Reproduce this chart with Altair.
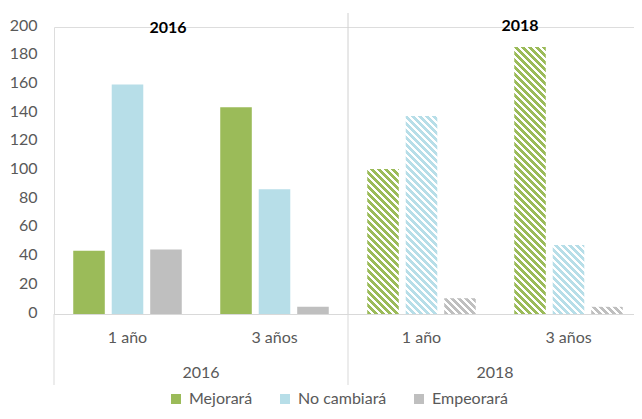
import altair as alt
import pandas as pd

# ---------------- data ----------------
years = ["2016", "2018"]
horizons = ["1 año", "3 años"]
series = ["Mejorará", "No cambiará", "Empeorará"]
colors = ["#9BBB59", "#B7DEE8", "#BFBFBF"]

# order: 2016·1 año, 2016·3 años, 2018·1 año, 2018·3 años
mejorara = [44, 144, 101, 186]
no_cambiara = [160, 87, 138, 48]
empeorara = [45, 5, 11, 5]
y_ticks = [0, 20, 40, 60, 80, 100, 120, 140, 160, 180, 200]

values_by_serie = {"Mejorará": mejorara, "No cambiará": no_cambiara, "Empeorará": empeorara}

rows = []
cats = []
i = 0
for yr in years:
    for hz in horizons:
        cat = f"{yr}|{hz}"
        cats.append(cat)
        for s in series:
            rows.append({"year": yr, "horizon": hz, "cat": cat, "serie": s,
                         "value": values_by_serie[s][i]})
        i += 1
df = pd.DataFrame(rows)

# ---------------- layout ----------------
W = 588
H = 287
YMAX = 200
FONT = "Lato"
TXT = "#595959"
PI, PO = 0.18, 0.5
step = W / len(cats)
bar_w = step / (3 - PI + 2 * PO) * (1 - PI)


def hatch(value, color, period=7.0, frac=0.55):
    w = bar_w
    h = max(value * H / YMAX, 0.5)
    total = w + h
    k = total / (w * w + h * h)
    stops = []
    j = 0
    while True:
        a = j * period / total
        if a >= 1:
            break
        b = min((j + frac) * period / total, 1.0)
        c = min((j + 1) * period / total, 1.0)
        stops += [{"offset": a, "color": color}, {"offset": b, "color": color},
                  {"offset": b, "color": "#FFFFFF"}, {"offset": c, "color": "#FFFFFF"}]
        j += 1
    return {"gradient": "linear", "x1": 0, "y1": 1, "x2": k * w, "y2": 1 - k * h,
            "stops": stops}


xscale = alt.Scale(domain=cats, paddingInner=0, paddingOuter=0)
x_axis = alt.Axis(title=None, labelExpr="split(datum.value, '|')[1]",
                  ticks=False, tickSize=0, domainColor="#D9D9D9",
                  labelPadding=15, labelFontSize=16, labelColor=TXT,
                  labelFont=FONT, labelAngle=0)


def xe(**kw):
    return alt.X("cat:N", scale=xscale, axis=x_axis, **kw)


xo_enc = alt.XOffset("serie:N", scale=alt.Scale(domain=series, paddingInner=PI, paddingOuter=PO))
y_enc = alt.Y("value:Q", scale=alt.Scale(domain=[0, YMAX]),
              axis=alt.Axis(title=None, values=y_ticks, grid=False, domain=False,
                            ticks=False, tickSize=0, labelPadding=17, labelFontSize=16,
                            labelColor=TXT, labelFont=FONT, labelOffset=-2))

base = alt.Chart(df)

bars_2016 = base.transform_filter(alt.datum.year == "2016").mark_bar().encode(
    x=xe(), xOffset=xo_enc, y=y_enc,
    color=alt.Color("serie:N", scale=alt.Scale(domain=series, range=colors),
                    legend=alt.Legend(title=None, orient="none", legendX=114, legendY=364,
                                      direction="horizontal", symbolType="square",
                                      symbolSize=100, symbolStrokeWidth=0,
                                      labelFontSize=16, labelColor=TXT, labelFont=FONT,
                                      columnPadding=24, labelOffset=5, padding=0)),
)

layers = [bars_2016]
for idx, hz in enumerate(horizons):
    for s, col in zip(series, colors):
        v = values_by_serie[s][2 + idx]
        layers.append(
            base.transform_filter(
                (alt.datum.year == "2018") & (alt.datum.horizon == hz) & (alt.datum.serie == s)
            ).mark_bar(fill=hatch(v, col)).encode(x=xe(), xOffset=xo_enc, y=y_enc)
        )

firsts = base.transform_filter(
    (alt.datum.serie == series[0]) & (alt.datum.horizon == horizons[0]))

rule_low = firsts.mark_rule(color="#D9D9D9", strokeWidth=1).encode(
    x=xe(bandPosition=0), y=alt.value(H), y2=alt.value(358))
rule_top = firsts.transform_filter(alt.datum.year == "2018").mark_rule(
    color="#D0D0D0", strokeWidth=1).encode(
    x=xe(bandPosition=0), y=alt.value(-14), y2=alt.value(H))

year_lbl = firsts.mark_text(font=FONT, fontSize=16, color=TXT, baseline="middle").encode(
    x=xe(bandPosition=1), y=alt.value(346), text="year:N")

title_16 = firsts.transform_filter(alt.datum.year == "2016").mark_text(
    font=FONT, fontSize=16, fontWeight="bold", color="#000000", baseline="middle", dx=-33
).encode(x=xe(bandPosition=1), y=alt.value(0.5), text="year:N")
title_18 = firsts.transform_filter(alt.datum.year == "2018").mark_text(
    font=FONT, fontSize=16, fontWeight="bold", color="#000000", baseline="middle", dx=25
).encode(x=xe(bandPosition=1), y=alt.value(-1), text="year:N")

layers += [rule_low, rule_top, year_lbl, title_16, title_18]

chart = alt.layer(*layers).properties(
    width=W, height=H,
    autosize=alt.AutoSizeParams(type="none"),
    padding={"left": 46, "top": 19, "right": -8, "bottom": 97},
).configure_view(stroke=None).configure(font=FONT)

chart.save("out.html", embed_options={"renderer": "svg", "actions": False})
